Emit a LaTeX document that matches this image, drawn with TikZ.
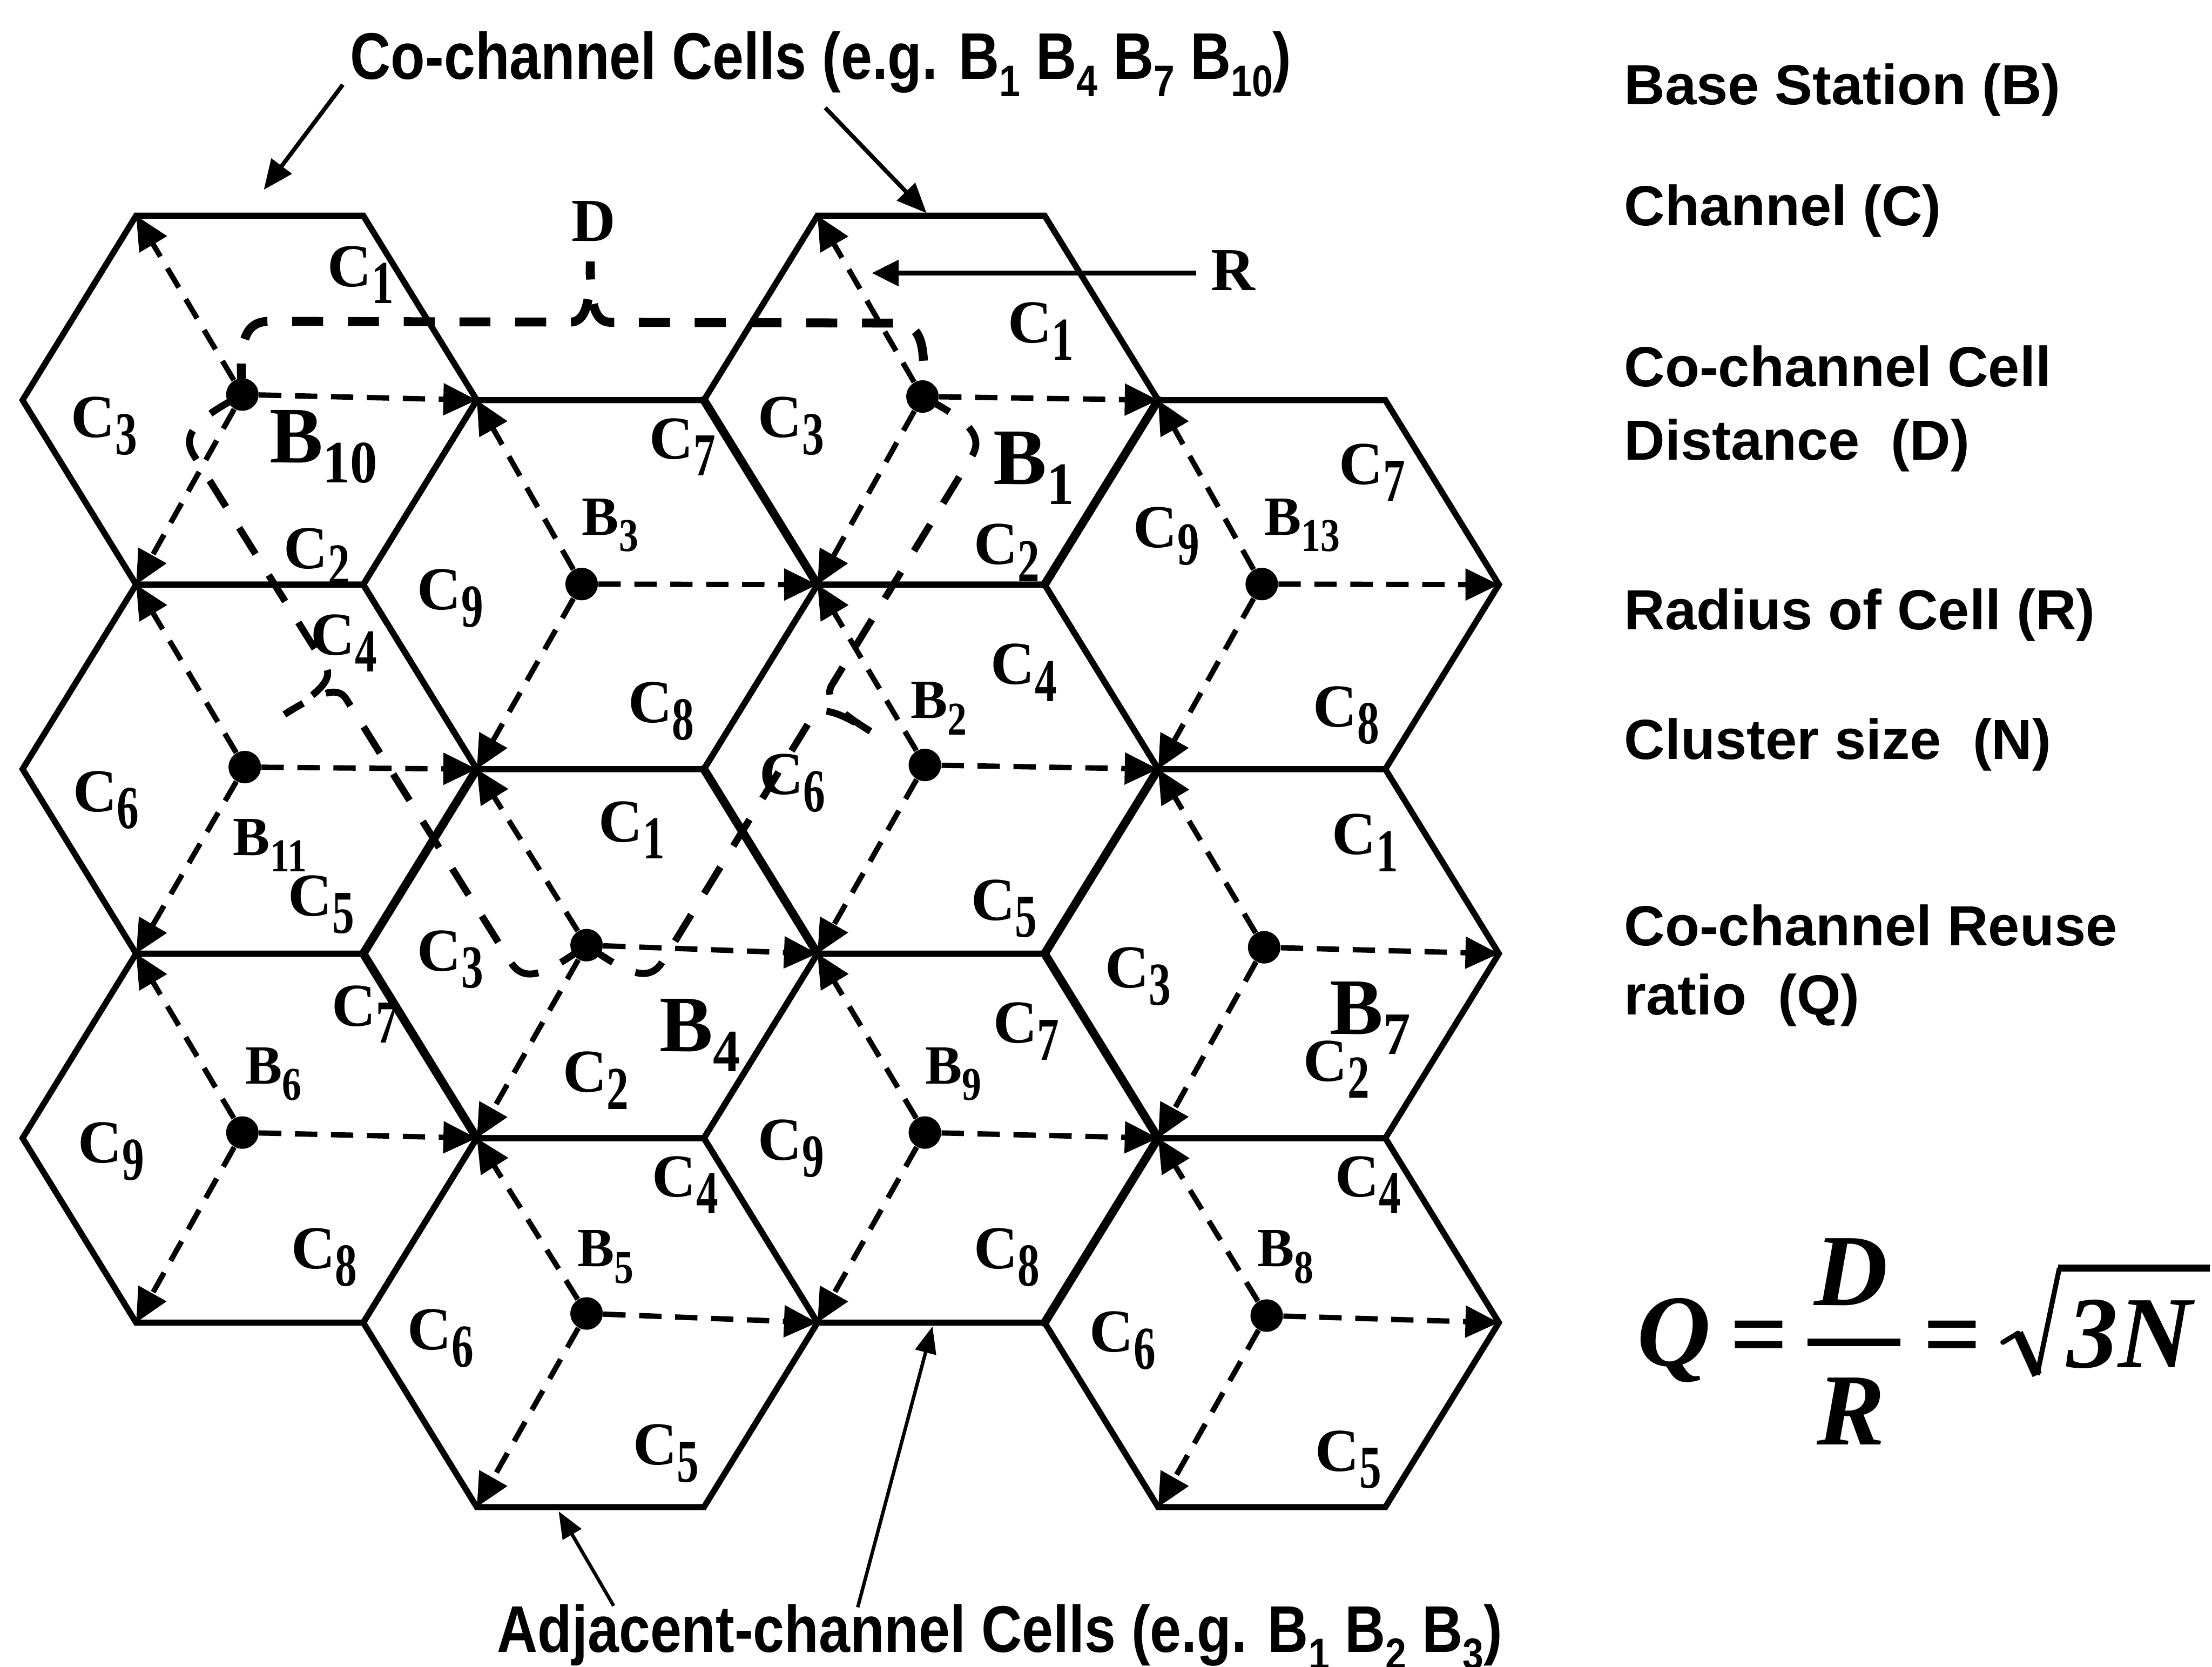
\documentclass[tikz,border=0pt]{standalone}
\usepackage{fontspec}
\usepackage{graphicx}
\setmainfont{Liberation Serif}
\setsansfont{Liberation Sans}
\newfontfamily\capfont{Liberation Sans}[FakeStretch=0.853]
\usetikzlibrary{arrows.meta,calc}

\newcommand\csub[1]{\raisebox{-0.28em}{\scalebox{0.72}[1]{#1}}}
\newcommand\bsub[1]{\raisebox{-0.3em}{\scalebox{0.7}[0.85]{#1}}}
\newcommand\Bsub[1]{\raisebox{-0.25em}{\scalebox{0.68}[0.75]{#1}}}
\newcommand\ssub[1]{\raisebox{-0.26em}{\scalebox{0.67}{#1}}}

\newcommand\hexcell[3]{%
  \coordinate (#1c) at (#2,#3);
  \coordinate (#1r) at ($(#1c)+(161,0)$);
  \coordinate (#1ur) at ($(#1c)+(80.5,-130.75)$);
  \coordinate (#1ul) at ($(#1c)+(-80.5,-130.75)$);
  \coordinate (#1l) at ($(#1c)+(-161,0)$);
  \coordinate (#1ll) at ($(#1c)+(-80.5,130.75)$);
  \coordinate (#1lr) at ($(#1c)+(80.5,130.75)$);
  \draw[hexedge] (#1r) -- (#1ur) -- (#1ul) -- (#1l) -- (#1ll) -- (#1lr) -- cycle;
}
\newcommand\bstation[4]{%
  \node[bsdot] (#1) at (#2,#3) {};
  \draw[darrow] (#1) -- (#4ul);
  \draw[darrow] (#1) -- (#4r);
  \draw[darrow] (#1) -- (#4ll);
}
\newcommand\cbrace[4]{%
  \pgfmathsetmacro\cbsa{#3-0.03}%
  \pgfmathsetmacro\cbsb{#3-0.005}%
  \pgfmathsetmacro\cbsc{#3+0.005}%
  \pgfmathsetmacro\cbsd{#3+0.03}%
  \draw[bracestyle,#4] (#1.center)
    .. controls ($(#1)!-0.005!(#2)!0.7cm!90:(#2)$) and ($(#1)!1.04cm!90:(#2)$)
    .. ($(#1)!0.04!(#2)!1.04cm!90:(#2)$)
    -- ($(#1)!\cbsa!(#2)!1.04cm!90:(#2)$)
    .. controls ($(#1)!\cbsb!(#2)!1.04cm!90:(#2)$) and ($(#1)!#3!(#2)!1.34cm!90:(#2)$)
    .. ($(#1)!#3!(#2)!1.9cm!90:(#2)$)
    .. controls ($(#1)!#3!(#2)!1.34cm!90:(#2)$) and ($(#1)!\cbsc!(#2)!1.04cm!90:(#2)$)
    .. ($(#1)!\cbsd!(#2)!1.04cm!90:(#2)$)
    -- ($(#1)!0.96!(#2)!1.04cm!90:(#2)$)
    .. controls ($(#2)!1.04cm!-90:(#1)$) and ($(#2)!-0.005!(#1)!0.7cm!-90:(#1)$)
    .. (#2.center);
}

\begin{document}
\begin{tikzpicture}[x=0.02cm,y=-0.02cm,
  hexedge/.style={line width=2.45pt, line join=miter},
  hexthick/.style={line width=3.4pt, line cap=round},
  darrow/.style={line width=2.15pt, dash pattern=on 9pt off 5.5pt, -{Triangle[length=13.5pt,width=12.5pt]}},
  bsdot/.style={circle, fill=black, inner sep=0pt, minimum size=0.46cm},
  bracestyle/.style={line width=2.8pt, dash pattern=on 12.5pt off 10pt},
  dbr/.style={line width=3.6pt},
  clab/.style={font=\fontsize{24.6pt}{24.6pt}\selectfont\bfseries, inner sep=0pt, anchor=base west},
  bsmall/.style={font=\fontsize{22.3pt}{22.3pt}\selectfont\bfseries, inner sep=0pt, anchor=base west},
  bbig/.style={font=\fontsize{32.3pt}{32.3pt}\selectfont\bfseries, inner sep=0pt, anchor=base west},
  legend/.style={font=\sffamily\bfseries\fontsize{22.8pt}{28pt}\selectfont, inner sep=0pt, anchor=base west},
  capt/.style={font=\capfont\bfseries\fontsize{26.6pt}{28pt}\selectfont, inner sep=0pt, anchor=base west},
  fbi/.style={font=\fontsize{41.2pt}{41.2pt}\selectfont\bfseries\itshape, inner sep=0pt},
  feq/.style={font=\fontsize{41.2pt}{41.2pt}\selectfont\bfseries, inner sep=0pt, anchor=base},
  caparrow/.style={line width=1.7pt, -{Triangle[length=12pt,width=10pt]}},
  botarrow/.style={line width=1.4pt, -{Triangle[length=10.8pt,width=8.5pt]}},
  rarrow/.style={line width=2pt, -{Triangle[length=10.8pt,width=10.2pt]}}
]
\fill[white] (0,0) rectangle (1568,1181);
\useasboundingbox (0,0) rectangle (1568,1181);

% ---------- cells ----------
\hexcell{h10}{177}{283.55}
\hexcell{h11}{177}{545.05}
\hexcell{h6}{177}{806.55}
\hexcell{h3}{418.5}{414.3}
\hexcell{h4}{418.5}{675.8}
\hexcell{h5}{418.5}{937.3}
\hexcell{h1}{660}{283.55}
\hexcell{h2}{660}{545.05}
\hexcell{h9}{660}{806.55}
\hexcell{h13}{901.5}{414.3}
\hexcell{h7}{901.5}{675.8}
\hexcell{h8}{901.5}{937.3}

\draw[hexthick] (h3ur) -- (h3r);
\draw[hexthick] (h1r) -- (h1lr);
\draw[hexthick] (h4ul) -- (h4l) -- (h4ll);
\draw[hexthick] (h4ur) -- (h4r);
\draw[hexthick] (h9ur) -- (h9r) -- (h9lr);
\draw[hexthick] (h2r) -- (h2lr);

% ---------- base stations ----------
\bstation{B10}{171.8}{279.6}{h10}
\bstation{B3}{412.3}{413.9}{h3}
\bstation{B11}{173.5}{543.6}{h11}
\bstation{B1}{653.9}{281}{h1}
\bstation{B13}{894.4}{413.9}{h13}
\bstation{B2}{655.6}{542.1}{h2}
\bstation{B4}{415.8}{669.8}{h4}
\bstation{B6}{171.8}{802.6}{h6}
\bstation{B5}{415.8}{930.8}{h5}
\bstation{B7}{896.1}{671.3}{h7}
\bstation{B9}{655.6}{802.6}{h9}
\bstation{B8}{897.9}{932.3}{h8}

% ---------- distance braces ----------
\cbrace{B10}{B1}{0.511}{dbr}
\cbrace{B1}{B4}{0.486}{}
\cbrace{B4}{B10}{0.548}{}

% ---------- channel labels ----------
\node[clab] (c10a) at (232,203) {C\csub{1}};
\node[clab] (c10b) at (50,310) {C\csub{3}};
\node[clab] (c10c) at (201,403) {C\csub{2}};
\node[clab] (c11a) at (220,464) {C\csub{4}};
\node[clab] (c11b) at (51.5,575) {C\csub{6}};
\node[clab] (c11c) at (204,649) {C\csub{5}};
\node[clab] (c6a) at (235,727) {C\csub{7}};
\node[clab] (c6b) at (55,824) {C\csub{9}};
\node[clab] (c6c) at (206,899) {C\csub{8}};
\node[clab] (c3a) at (460,325) {C\csub{7}};
\node[clab] (c3b) at (295.5,432) {C\csub{9}};
\node[clab] (c3c) at (445,512) {C\csub{8}};
\node[clab] (c4a) at (424,596.5) {C\csub{1}};
\node[clab] (c4b) at (295.5,688) {C\csub{3}};
\node[clab] (c4c) at (398.6,774) {C\csub{2}};
\node[clab] (c5a) at (462,848) {C\csub{4}};
\node[clab] (c5b) at (288.6,956.5) {C\csub{6}};
\node[clab] (c5c) at (448.4,1038) {C\csub{5}};
\node[clab] (c1a) at (714,243) {C\csub{1}};
\node[clab] (c1b) at (537,310) {C\csub{3}};
\node[clab] (c1c) at (690,400) {C\csub{2}};
\node[clab] (c2a) at (702,485) {C\csub{4}};
\node[clab] (c2b) at (538,563) {C\csub{6}};
\node[clab] (c2c) at (688,652) {C\csub{5}};
\node[clab] (c9a) at (703.7,739) {C\csub{7}};
\node[clab] (c9b) at (537,822) {C\csub{9}};
\node[clab] (c9c) at (690,899) {C\csub{8}};
\node[clab] (c13a) at (949,343) {C\csub{7}};
\node[clab] (c13b) at (803,388) {C\csub{9}};
\node[clab] (c13c) at (930.5,515) {C\csub{8}};
\node[clab] (c7a) at (944,605.5) {C\csub{1}};
\node[clab] (c7b) at (783,700) {C\csub{3}};
\node[clab] (c7c) at (923.6,766) {C\csub{2}};
\node[clab] (c8a) at (946,848) {C\csub{4}};
\node[clab] (c8b) at (772,958) {C\csub{6}};
\node[clab] (c8c) at (932,1042.5) {C\csub{5}};

% ---------- base station labels ----------
\node[bbig] (lB10) at (190.7,328) {B\Bsub{10}};
\node[bbig] (lB1) at (703.7,343) {B\Bsub{1}};
\node[bbig] (lB4) at (467.3,745) {B\Bsub{4}};
\node[bbig] (lB7) at (942.5,733) {B\Bsub{7}};
\node[bsmall] (lB3) at (412.3,379) {B\bsub{3}};
\node[bsmall] (lB13) at (896,379) {B\bsub{13}};
\node[bsmall] (lB2) at (645.3,509) {B\bsub{2}};
\node[bsmall] (lB11) at (165,606) {B\bsub{11}};
\node[bsmall] (lB6) at (173.5,768) {B\bsub{6}};
\node[bsmall] (lB9) at (655.6,768) {B\bsub{9}};
\node[bsmall] (lB5) at (409,897.6) {B\bsub{5}};
\node[bsmall] (lB8) at (891,897.6) {B\bsub{8}};

% ---------- D and R ----------
\node[clab] (dlab) at (405,171) {D};
\node[clab] (rlab) at (858,205.6) {R};
\coordinate (rtip) at (618,193.5);
\coordinate (rstart) at (848,193.5);
\draw[rarrow] (rstart) -- (rtip);

% ---------- captions ----------
\node[capt] (cap1) at (248,56) {Co-channel Cells (e.g. B\ssub{1} B\ssub{4} B\ssub{7} B\ssub{10})};
\node[capt] (cap2) at (352,1171) {Adjacent-channel Cells (e.g. B\ssub{1} B\ssub{2} B\ssub{3})};
\coordinate (t1s) at (243,60);
\coordinate (t1e) at (187,134.5);
\coordinate (t2s) at (585,76.4);
\coordinate (t2e) at (656.8,151);
\draw[caparrow] (t1s) -- (t1e);
\draw[caparrow] (t2s) -- (t2e);
\coordinate (b1s) at (435,1138);
\coordinate (b1e) at (396,1071);
\coordinate (b2s) at (608,1139);
\coordinate (b2e) at (661,940);
\draw[botarrow] (b1s) -- (b1e);
\draw[botarrow] (b2s) -- (b2e);

% ---------- legend ----------
\node[legend] (l1) at (1151,74) {Base Station (B)};
\node[legend] (l2) at (1151,160) {Channel (C)};
\node[legend] (l3) at (1151,274) {Co-channel Cell};
\node[legend] (l4) at (1151,326) {Distance~ (D)};
\node[legend] (l5) at (1151,446) {Radius of Cell (R)};
\node[legend] (l6) at (1151,538) {Cluster size~ (N)};
\node[legend] (l7) at (1151,670) {Co-channel Reuse};
\node[legend] (l8) at (1151,719) {ratio~ (Q)};

% ---------- formula ----------
\node[fbi, anchor=base west] (fQ) at (1160,968) {Q};
\node[feq] (feq1) at (1247,970) {=};
\node[fbi, anchor=base] (fD) at (1312,925) {D};
\node[fbi, anchor=base] (fR) at (1312,1024) {R};
\draw[line width=2.9pt] (1281.4,951.3) -- (1347.1,951.3);
\node[feq] (feq2) at (1384,970) {=};
\coordinate (rad1) at (1419.7,951.3);
\coordinate (rad2) at (1430.6,944.7);
\coordinate (rad3) at (1444,974.4);
\coordinate (rad4) at (1459.8,898.6);
\coordinate (rad5) at (1566.5,898.6);
\draw[line width=2pt, line cap=round] (rad1) -- (rad2);
\draw[line width=4pt] (rad2) -- (rad3);
\draw[line width=2pt] (rad3) -- (rad4);
\draw[line width=2.8pt] ([xshift=-0.6pt]rad4) -- (rad5);
\node[fbi, anchor=base west] (f3N) at (1465,969) {3N};
\end{tikzpicture}
\end{document}
